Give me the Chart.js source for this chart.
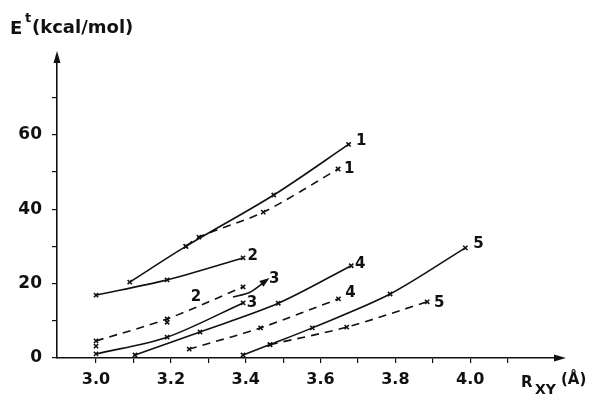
<!DOCTYPE html>
<html>
<head>
<meta charset="utf-8">
<script src="https://cdn.jsdelivr.net/npm/chart.js@4/dist/chart.umd.min.js"></script>
<style>
html,body{margin:0;padding:0;background:#fff;}
#wrap{width:605px;height:396px;}
</style>
</head>
<body>
<div id="wrap"><canvas id="myChart" width="605" height="396"></canvas></div>
<script>
'use strict';
// curves (R in Angstrom, E in kcal/mol)
var s1x=[3.09,3.24,3.475,3.675], s1y=[20.4,30,43.8,57.4];
var d1x=[3.24,3.275,3.447,3.647], d1y=[30,32.5,39.2,50.8];
var s2x=[3.0,3.19,3.393], s2y=[16.9,21,26.9];
var d2x=[3.0,3.19,3.393], d2y=[4.6,10.5,19.1];
var s3x=[3.0,3.19,3.393], s3y=[1.1,5.6,14.8];
var a3x=[3.366,3.41,3.457], a3y=[16.4,17.6,21];
var s4x=[3.104,3.278,3.487,3.682], s4y=[0.8,7,14.7,24.8];
var d4x=[3.249,3.44,3.648], d4y=[2.4,8.1,15.9];
var s5x=[3.393,3.465,3.578,3.786,3.987], s5y=[0.8,3.6,8.1,17.2,29.6];
var d5x=[3.465,3.67,3.885], d5y=[3.6,8.3,15.1];
var extraX=[3.0,3.19], extraY=[3.2,9.6];
// curve numbers
var tagText=['1','1','2','2','3','3','4','4','5','5'];
var tagX=[3.709,3.677,3.419,3.267,3.476,3.417,3.706,3.680,4.022,3.917];
var tagY=[58.3,50.8,27.4,16.4,21.2,14.8,25.3,17.5,30.6,14.8];
var xLabeled=[3.0,3.2,3.4,3.6,3.8,4.0];
var yLabeled=[0,20,40,60];

var ink='#111';
var face='"DejaVu Sans", "Liberation Sans", Arial, sans-serif';
function pts(xs,ys){
  var out=[];
  for(var i=0;i<xs.length;i++){out.push({x:xs[i],y:ys[i]});}
  return out;
}
function curve(xs,ys,dashed,marks){
  return {
    data:pts(xs,ys),
    borderColor:ink,
    backgroundColor:ink,
    borderWidth:1.6,
    borderDash:dashed?[8,6]:[],
    tension:0.3,
    pointStyle:'crossRot',
    pointRadius:marks?3:0,
    pointBorderWidth:1.6,
    showLine:true,
    fill:false
  };
}

var datasets=[
  curve(s1x,s1y,false,true),
  curve(d1x,d1y,true,true),
  curve(s2x,s2y,false,true),
  curve(d2x,d2y,true,true),
  curve(s3x,s3y,false,true),
  curve(a3x,a3y,false,false),
  curve(s4x,s4y,false,true),
  curve(d4x,d4y,true,true),
  curve(s5x,s5y,false,true),
  curve(d5x,d5y,true,true),
  {data:pts(extraX,extraY),showLine:false,borderColor:ink,pointStyle:'crossRot',pointRadius:3,pointBorderWidth:1.6}
];

var decor={
  id:'decor',
  afterDatasetsDraw:function(chart){
    var c=chart.ctx, xs=chart.scales.x, ys=chart.scales.y, a=chart.chartArea;
    c.save();
    c.fillStyle=ink;c.strokeStyle=ink;
    // axis arrows
    c.beginPath();
    c.moveTo(a.left,a.top-6);c.lineTo(a.left-3.5,a.top+6);c.lineTo(a.left+3.5,a.top+6);c.closePath();c.fill();
    c.beginPath();
    c.moveTo(a.right+6,a.bottom);c.lineTo(a.right-6,a.bottom-3.5);c.lineTo(a.right-6,a.bottom+3.5);c.closePath();c.fill();
    // arrow head on the short curve 3
    var n=a3x.length;
    var px=xs.getPixelForValue(a3x[n-1]), py=ys.getPixelForValue(a3y[n-1]);
    var qx=xs.getPixelForValue(a3x[n-2]), qy=ys.getPixelForValue(a3y[n-2]);
    var ang=Math.atan2(py-qy,px-qx);
    c.beginPath();
    c.moveTo(px+3*Math.cos(ang),py+3*Math.sin(ang));
    c.lineTo(px-7*Math.cos(ang)+3.5*Math.sin(ang),py-7*Math.sin(ang)-3.5*Math.cos(ang));
    c.lineTo(px-7*Math.cos(ang)-3.5*Math.sin(ang),py-7*Math.sin(ang)+3.5*Math.cos(ang));
    c.closePath();c.fill();
    // curve numbers
    c.font='bold 15px '+face;
    c.textAlign='center';c.textBaseline='middle';
    for(var i=0;i<tagText.length;i++){
      c.fillText(tagText[i],xs.getPixelForValue(tagX[i]),ys.getPixelForValue(tagY[i]));
    }
    // axis titles
    c.textAlign='left';c.textBaseline='alphabetic';
    c.font='bold 18px '+face;
    c.fillText('E',10,34);
    c.font='bold 13px '+face;
    c.fillText('t',25,22);
    c.font='bold 18px '+face;
    c.fillText('(kcal/mol)',32,33);
    c.font='bold 15px '+face;
    c.fillText('R',521,387);
    c.font='bold 14px '+face;
    c.fillText('XY',535,394);
    c.font='bold 15px '+face;
    c.fillText('(Å)',561,384);
    c.restore();
  }
};

var ctx=document.getElementById('myChart').getContext('2d');
var chart=new Chart(ctx,{
  type:'scatter',
  data:{datasets:datasets},
  plugins:[decor],
  options:{
    responsive:false,
    animation:false,
    layout:{padding:{left:0,top:57,right:45,bottom:0}},
    plugins:{legend:{display:false},tooltip:{enabled:false}},
    scales:{
      x:{
        type:'linear',
        min:2.8957,max:4.24,
        border:{display:true,color:ink,width:1.6},
        grid:{drawOnChartArea:false,drawTicks:true,tickLength:5,color:ink,lineWidth:1.2},
        ticks:{
          stepSize:0.1,includeBounds:false,color:ink,padding:7,
          font:{family:face,size:16,weight:'bold'},
          maxRotation:0,autoSkip:false,
          callback:function(v){
            for(var i=0;i<xLabeled.length;i++){if(Math.abs(v-xLabeled[i])<1e-6){return v.toFixed(1);}}
            return '';
          }
        },
        afterBuildTicks:function(s){s.ticks=s.ticks.filter(function(t){return t.value>2.95&&t.value<4.15;});},
        afterFit:function(s){s.height=38;}
      },
      y:{
        type:'linear',
        min:0,max:80.9,
        border:{display:true,color:ink,width:1.6},
        grid:{drawOnChartArea:false,drawTicks:true,tickLength:5,color:ink,lineWidth:1.2},
        ticks:{
          stepSize:10,includeBounds:false,color:ink,padding:10,
          font:{family:face,size:17,weight:'bold'},
          callback:function(v){return yLabeled.indexOf(v)>=0?String(v):'';}
        },
        afterBuildTicks:function(s){s.ticks=s.ticks.filter(function(t){return t.value<75;});},
        afterFit:function(s){s.width=57;}
      }
    }
  }
});
</script>
</body>
</html>
